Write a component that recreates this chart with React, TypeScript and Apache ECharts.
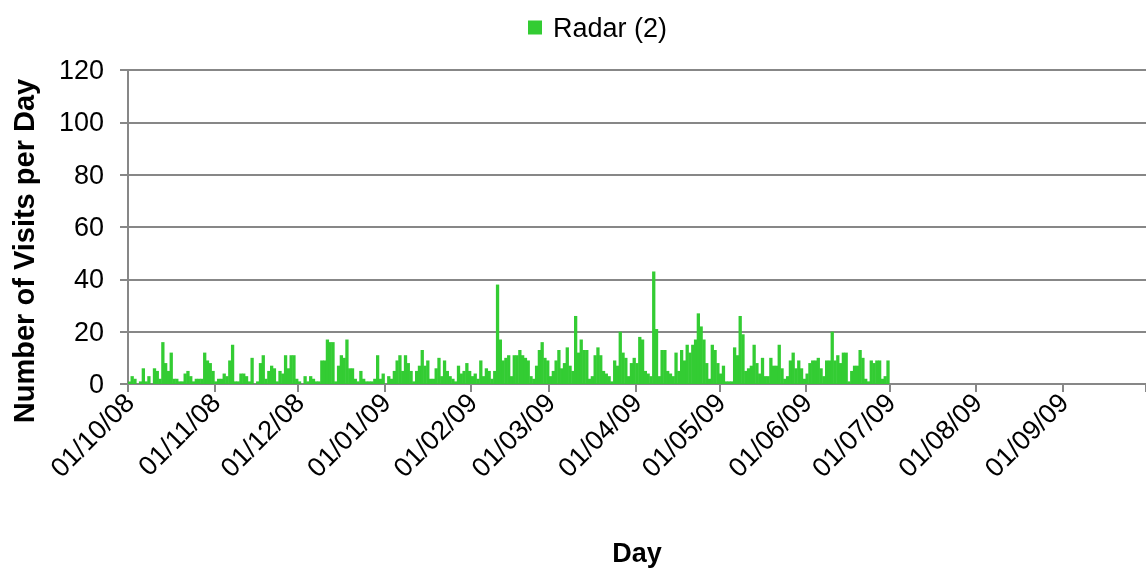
import React, { useEffect, useRef } from 'react';
import * as echarts from 'echarts';

// Daily visits, 01/10/08 .. 30/06/09
const octNov: number[] = [1, 3, 2, 0, 1, 6, 1, 3, 0, 6, 5, 2, 16, 8, 5, 12, 2, 2, 1, 1, 4, 5, 3, 1, 2, 2, 2, 12,
  9, 8, 5, 1, 2, 2, 4, 3, 9, 15, 1, 1, 4, 4, 3, 1, 10, 0, 1, 8, 11, 2, 5, 7, 6, 1, 5];
const novDec: number[] = [4, 11, 6, 11, 11, 2, 1, 0, 3, 1, 3, 2, 1, 1, 9, 9, 17, 16, 16, 1, 7, 11, 10, 17, 6, 6, 2, 1];
const decJan: number[] = [5, 2, 1, 1, 1, 2, 11, 2, 4, 0, 3, 2, 5, 9, 11, 5, 11, 8, 5, 1, 5, 7, 13, 7, 9, 2, 2, 6];
const janFeb: number[] = [10, 3, 9, 5, 3, 2, 1, 7, 4, 5, 8, 5, 3, 4, 2, 9, 3, 6, 5, 2, 5, 38, 17, 9, 10, 11, 3, 11];
const febMar: number[] = [11, 13, 11, 10, 9, 3, 2, 7, 13, 16, 10, 9, 3, 5, 9, 13, 6, 8, 14, 7, 5, 26, 12, 17, 13, 13, 2, 3];
const marApr: number[] = [11, 14, 11, 5, 4, 3, 1, 9, 7, 20, 12, 10, 3, 8, 10, 8, 18, 17, 5, 4, 3, 43, 21, 3, 13, 13, 5, 4];
const aprMay: number[] = [3, 12, 5, 13, 9, 15, 12, 15, 17, 27, 22, 17, 8, 2, 15, 13, 8, 4, 7, 1, 1, 1, 14, 11, 26, 19, 5, 6];
const mayJun: number[] = [7, 15, 8, 4, 10, 3, 3, 10, 7, 7, 15, 6, 2, 3, 9, 12, 6, 9, 6, 2, 4, 8, 9, 9, 10, 6, 3, 9];
const june: number[] = [9, 20, 9, 11, 8, 12, 12, 1, 5, 7, 7, 13, 10, 2, 1, 9, 8, 9, 9, 2, 3, 9];

const visits: number[] = [...octNov, ...novDec, ...decJan, ...janFeb, ...febMar, ...marApr, ...aprMay, ...mayJun, ...june];

const seriesName = 'Radar (2)';
const yTicks = [0, 20, 40, 60, 80, 100, 120];

function buildDays(): string[] {
  const out: string[] = [];
  const start = Date.UTC(2008, 9, 1);
  for (let i = 0; i < 365; i++) {
    const d = new Date(start + i * 86400000);
    const dd = String(d.getUTCDate()).padStart(2, '0');
    const mm = String(d.getUTCMonth() + 1).padStart(2, '0');
    const yy = String(d.getUTCFullYear() % 100).padStart(2, '0');
    out.push(`${dd}/${mm}/${yy}`);
  }
  return out;
}

const days = buildDays();

export default function App() {
  const ref = useRef<HTMLDivElement>(null);
  useEffect(() => {
    if (!ref.current) return;
    const chart = echarts.init(ref.current, null, { renderer: 'svg' });
    const font = '"Liberation Sans", Arial, sans-serif';
    const gray = '#878787';
    const green = '#33CC33';
    const isMonthStart = (i: number) => days[i].startsWith('01/');
    chart.setOption({
      animation: false,
      textStyle: { fontFamily: font },
      legend: {
        data: [seriesName],
        left: 523,
        top: 9,
        itemWidth: 14,
        itemHeight: 14,
        icon: 'rect',
        textStyle: { fontSize: 27, color: '#000', fontFamily: font, padding: [0, 0, 0, 6] },
      },
      grid: { left: 128, right: 0, top: 70, bottom: 184, outerBoundsMode: 'none', containLabel: false },
      xAxis: {
        type: 'category',
        data: days,
        boundaryGap: true,
        name: 'Day',
        nameLocation: 'middle',
        nameGap: 155,
        nameTextStyle: { fontSize: 27, fontWeight: 'bold', color: '#000', fontFamily: font },
        axisLine: { lineStyle: { color: gray, width: 2 } },
        axisTick: { show: true, interval: (i: number) => isMonthStart(i), length: 8, lineStyle: { color: gray, width: 2 } },
        axisLabel: {
          interval: (i: number) => isMonthStart(i),
          rotate: 45,
          fontSize: 27,
          color: '#000',
          margin: 14,
          fontFamily: font,
        },
        splitLine: { show: false },
      },
      yAxis: {
        type: 'value',
        min: yTicks[0],
        max: yTicks[yTicks.length - 1],
        interval: 20,
        axisLine: { show: true, lineStyle: { color: gray, width: 2 } },
        axisTick: { show: true, length: 8, lineStyle: { color: gray, width: 2 } },
        axisLabel: { fontSize: 27, color: '#000', margin: 24, fontFamily: font },
        splitLine: { lineStyle: { color: gray, width: 2 } },
      },
      graphic: [
        {
          type: 'text',
          x: 24,
          y: 251,
          rotation: Math.PI / 2,
          style: {
            text: 'Number of Visits per Day',
            fontSize: 29,
            fontWeight: 'bold',
            fontFamily: font,
            fill: '#000',
            align: 'center',
            verticalAlign: 'middle',
          },
        },
      ],
      series: [
        {
          name: seriesName,
          type: 'bar',
          data: visits,
          barWidth: 3.3,
          itemStyle: { color: green },
        },
      ],
    });
    return () => chart.dispose();
  }, []);
  return <div ref={ref} style={{ position: 'fixed', left: 0, top: 0, width: 1146, height: 568 }} />;
}
